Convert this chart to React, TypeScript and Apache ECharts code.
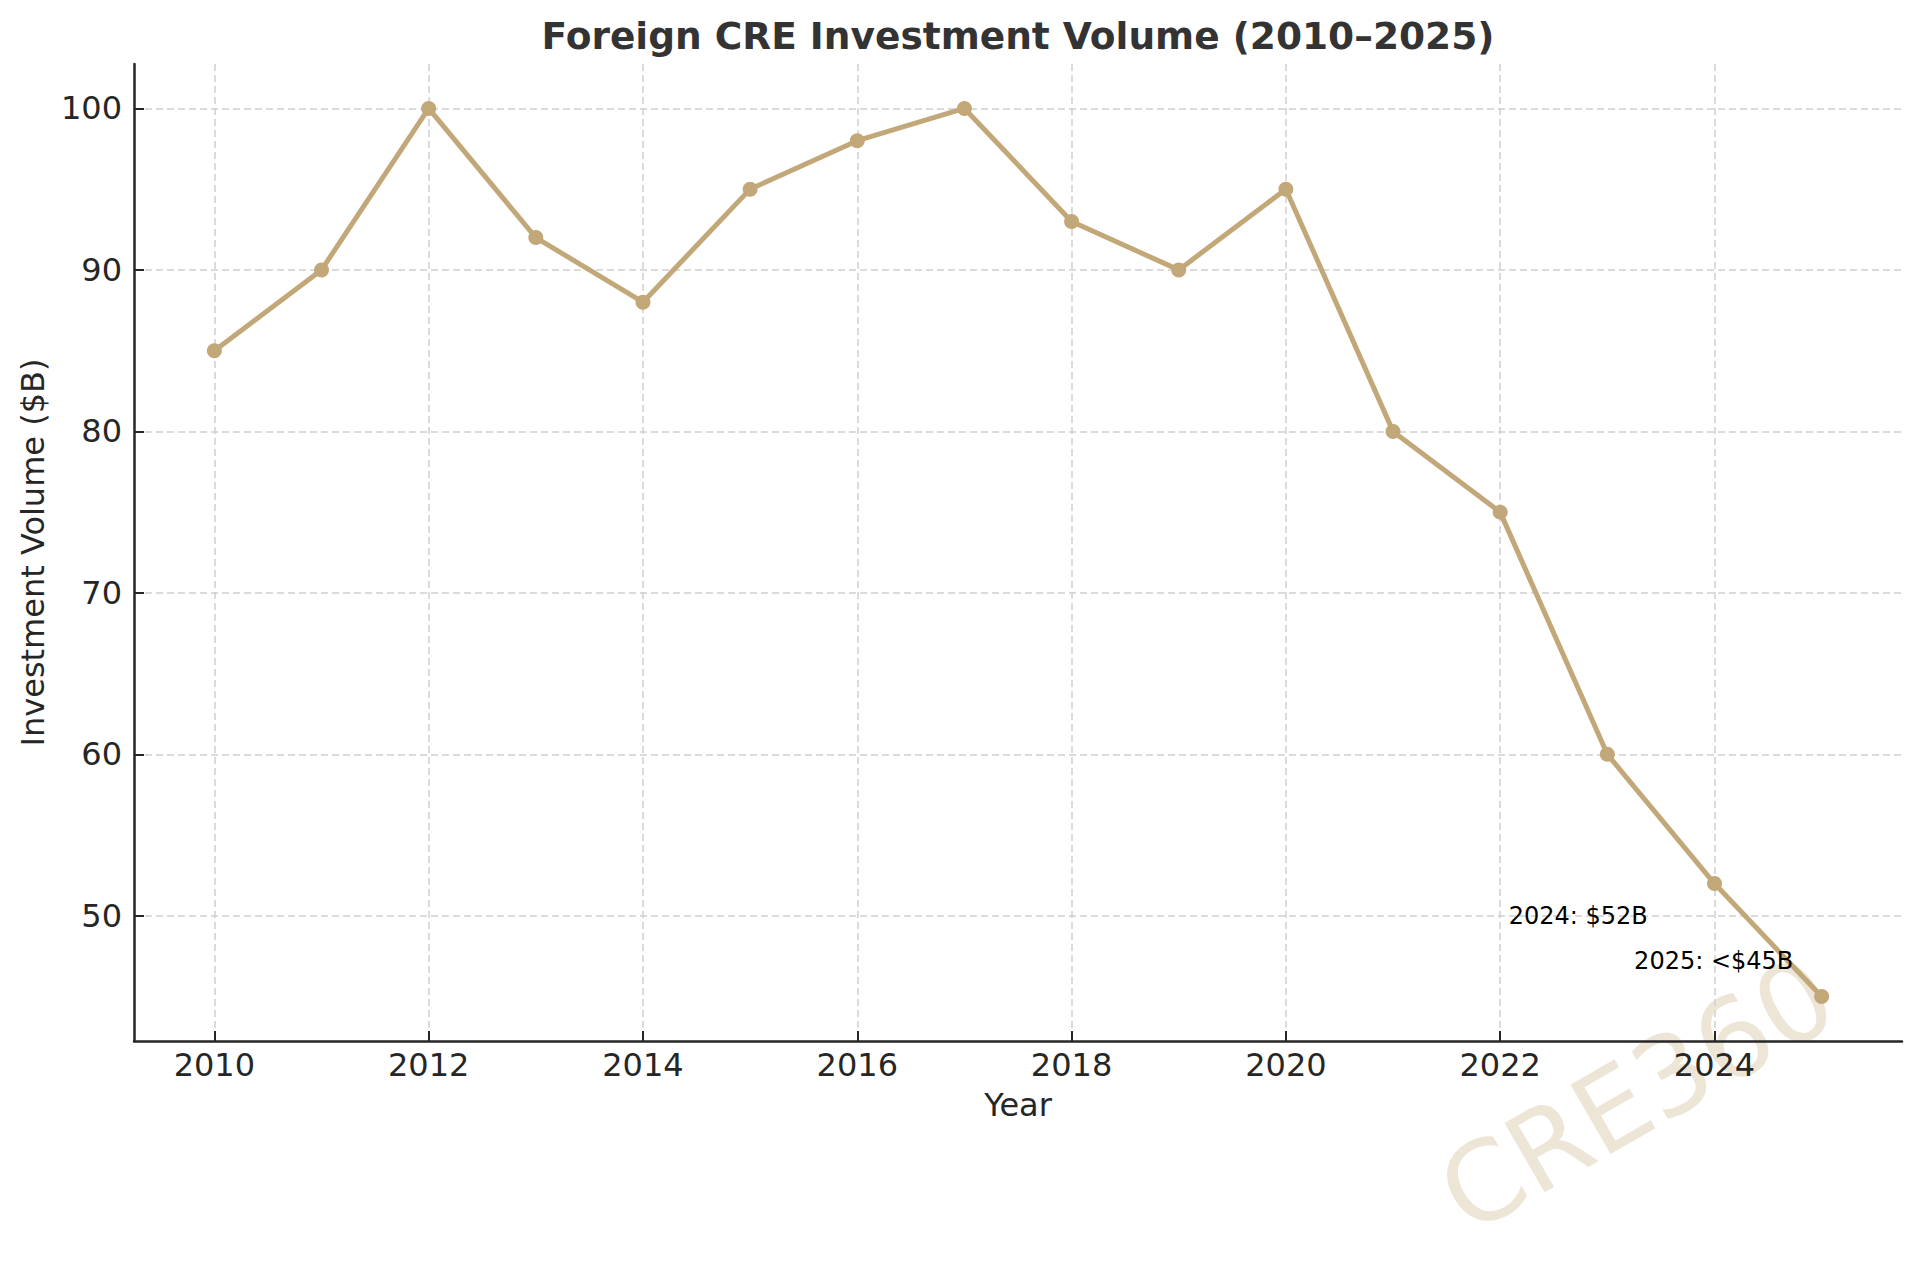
import React, { useEffect, useRef } from "react";
import * as echarts from "echarts";

const years = [2010, 2011, 2012, 2013, 2014, 2015, 2016, 2017, 2018, 2019, 2020, 2021, 2022, 2023, 2024, 2025];
const volumes = [85, 90, 100, 92, 88, 95, 98, 100, 93, 90, 95, 80, 75, 60, 52, 45];
const xTicks = [2010, 2012, 2014, 2016, 2018, 2020, 2022, 2024];
const yTicks = [50, 60, 70, 80, 90, 100];
const noteTexts = ["2024: $52B", "2025: <$45B"];
const noteX = [2022.08, 2023.25];
const noteY = [50, 47.2];

const FONT = "DejaVu Sans";
const TAN = "#C2A878";
const INK = "#262626";

export default function App() {
  const ref = useRef<HTMLDivElement>(null);
  useEffect(() => {
    if (!ref.current) return;
    const chart = echarts.init(ref.current, null, { renderer: "svg" });
    const seriesData = years.map((y, i) => [y, volumes[i]]);
    chart.setOption({
      animation: false,
      backgroundColor: "#ffffff",
      title: {
        text: "Foreign CRE Investment Volume (2010–2025)",
        left: 1018,
        top: 17,
        padding: 0,
        textAlign: "center",
        textStyle: { fontFamily: FONT, fontSize: 37.5, fontWeight: "bold", color: "#333333" },
      },
      grid: { left: 134, right: 18, top: 64, bottom: 225, containLabel: false },
      xAxis: {
        type: "value",
        min: 2009.25,
        max: 2025.75,
        name: "Year",
        nameLocation: "middle",
        nameGap: 48,
        nameTextStyle: { fontFamily: FONT, fontSize: 32, color: INK },
        axisLine: { show: true, lineStyle: { color: INK, width: 2.5 } },
        axisTick: { show: true, inside: true, length: 10, customValues: xTicks, lineStyle: { color: INK, width: 2 } },
        axisLabel: {
          customValues: xTicks,
          fontFamily: FONT,
          fontSize: 32,
          color: INK,
          margin: 8,
          formatter: (v: number) => String(v),
        },
        splitLine: { show: true, lineStyle: { color: "#d0d0d0", width: 1.5, type: [7, 4] } },
      },
      yAxis: {
        type: "value",
        min: 42.25,
        max: 102.75,
        name: "Investment Volume ($B)",
        nameLocation: "middle",
        nameGap: 85,
        nameTextStyle: { fontFamily: FONT, fontSize: 32, color: INK },
        axisLine: { show: true, lineStyle: { color: INK, width: 2.5 } },
        axisTick: { show: true, inside: true, length: 10, customValues: yTicks, lineStyle: { color: INK, width: 2 } },
        axisLabel: {
          customValues: yTicks,
          fontFamily: FONT,
          fontSize: 32,
          color: INK,
          margin: 12,
          formatter: (v: number) => String(v),
        },
        splitLine: { show: true, lineStyle: { color: "#d0d0d0", width: 1.5, type: [7, 4] } },
      },
      graphic: [
        {
          type: "text",
          x: 1637,
          y: 1095,
          rotation: Math.PI / 6,
          z: 0,
          silent: true,
          style: {
            text: "CRE360",
            fontFamily: FONT,
            fontSize: 110,
            fill: TAN,
            opacity: 0.3,
            textAlign: "center",
            textVerticalAlign: "middle",
          },
        },
      ],
      series: [
        {
          type: "line",
          data: seriesData,
          symbol: "circle",
          symbolSize: 15,
          itemStyle: { color: TAN, borderWidth: 0 },
          lineStyle: { color: TAN, width: 5 },
          z: 3,
          markPoint: {
            symbol: "circle",
            symbolSize: 0,
            itemStyle: { color: "transparent" },
            label: {
              show: true,
              position: "right",
              distance: 0,
              fontFamily: FONT,
              fontSize: 24,
              color: "#000000",
            },
            data: noteTexts.map((t, i) => ({
              coord: [noteX[i], noteY[i]],
              value: t,
              label: { formatter: t },
            })),
          },
        },
      ],
    });
    return () => chart.dispose();
  }, []);
  return (
    <div
      ref={ref}
      style={{ position: "fixed", left: 0, top: 0, width: 1920, height: 1266, background: "#fff" }}
    />
  );
}
